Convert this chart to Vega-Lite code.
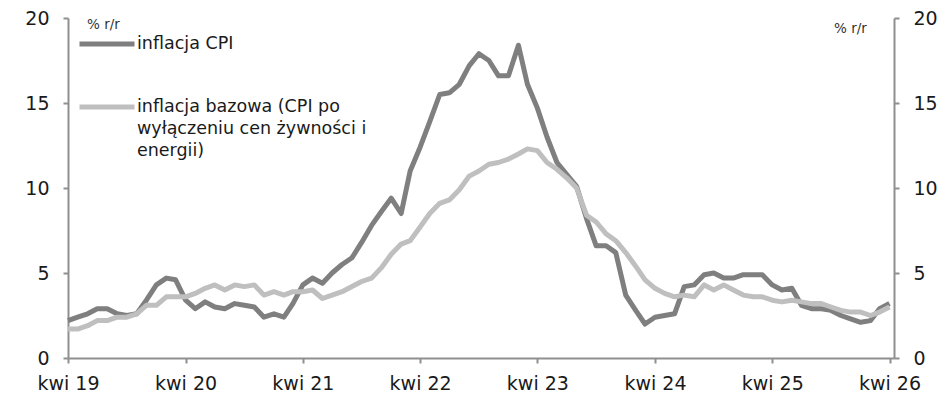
{
  "$schema": "https://vega.github.io/schema/vega-lite/v6.json",
  "width": 826,
  "height": 340,
  "autosize": {"type": "none"},
  "padding": {"left": 68, "top": 18, "right": 56, "bottom": 48},
  "background": "white",
  "config": {
    "view": {"stroke": null},
    "font": "DejaVu Sans",
    "style": {"guide-label": {"lineHeight": 22}},
    "axis": {
      "grid": false,
      "domainColor": "#8f8f8f",
      "domainWidth": 2,
      "tickColor": "#8f8f8f",
      "tickWidth": 2,
      "tickSize": 5,
      "labelFont": "DejaVu Sans",
      "labelFontSize": 19,
      "labelColor": "#1a1a1a",
      "titleFont": "DejaVu Sans",
      "titleFontSize": 13.5,
      "titleFontWeight": "normal",
      "titleColor": "#333333"
    }
  },
  "data": {
    "values": [
      {"date": "2019-04-01", "cpi": 2.2, "core": 1.7},
      {"date": "2019-05-01", "cpi": 2.4, "core": 1.7},
      {"date": "2019-06-01", "cpi": 2.6, "core": 1.9},
      {"date": "2019-07-01", "cpi": 2.9, "core": 2.2},
      {"date": "2019-08-01", "cpi": 2.9, "core": 2.2},
      {"date": "2019-09-01", "cpi": 2.6, "core": 2.4},
      {"date": "2019-10-01", "cpi": 2.5, "core": 2.4},
      {"date": "2019-11-01", "cpi": 2.6, "core": 2.6},
      {"date": "2019-12-01", "cpi": 3.4, "core": 3.1},
      {"date": "2020-01-01", "cpi": 4.3, "core": 3.1},
      {"date": "2020-02-01", "cpi": 4.7, "core": 3.6},
      {"date": "2020-03-01", "cpi": 4.6, "core": 3.6},
      {"date": "2020-04-01", "cpi": 3.4, "core": 3.6},
      {"date": "2020-05-01", "cpi": 2.9, "core": 3.8},
      {"date": "2020-06-01", "cpi": 3.3, "core": 4.1},
      {"date": "2020-07-01", "cpi": 3.0, "core": 4.3},
      {"date": "2020-08-01", "cpi": 2.9, "core": 4.0},
      {"date": "2020-09-01", "cpi": 3.2, "core": 4.3},
      {"date": "2020-10-01", "cpi": 3.1, "core": 4.2},
      {"date": "2020-11-01", "cpi": 3.0, "core": 4.3},
      {"date": "2020-12-01", "cpi": 2.4, "core": 3.7},
      {"date": "2021-01-01", "cpi": 2.6, "core": 3.9},
      {"date": "2021-02-01", "cpi": 2.4, "core": 3.7},
      {"date": "2021-03-01", "cpi": 3.2, "core": 3.9},
      {"date": "2021-04-01", "cpi": 4.3, "core": 3.9},
      {"date": "2021-05-01", "cpi": 4.7, "core": 4.0},
      {"date": "2021-06-01", "cpi": 4.4, "core": 3.5},
      {"date": "2021-07-01", "cpi": 5.0, "core": 3.7},
      {"date": "2021-08-01", "cpi": 5.5, "core": 3.9},
      {"date": "2021-09-01", "cpi": 5.9, "core": 4.2},
      {"date": "2021-10-01", "cpi": 6.8, "core": 4.5},
      {"date": "2021-11-01", "cpi": 7.8, "core": 4.7},
      {"date": "2021-12-01", "cpi": 8.6, "core": 5.3},
      {"date": "2022-01-01", "cpi": 9.4, "core": 6.1},
      {"date": "2022-02-01", "cpi": 8.5, "core": 6.7},
      {"date": "2022-03-01", "cpi": 11.0, "core": 6.9},
      {"date": "2022-04-01", "cpi": 12.4, "core": 7.7},
      {"date": "2022-05-01", "cpi": 13.9, "core": 8.5},
      {"date": "2022-06-01", "cpi": 15.5, "core": 9.1},
      {"date": "2022-07-01", "cpi": 15.6, "core": 9.3},
      {"date": "2022-08-01", "cpi": 16.1, "core": 9.9},
      {"date": "2022-09-01", "cpi": 17.2, "core": 10.7},
      {"date": "2022-10-01", "cpi": 17.9, "core": 11.0},
      {"date": "2022-11-01", "cpi": 17.5, "core": 11.4},
      {"date": "2022-12-01", "cpi": 16.6, "core": 11.5},
      {"date": "2023-01-01", "cpi": 16.6, "core": 11.7},
      {"date": "2023-02-01", "cpi": 18.4, "core": 12.0},
      {"date": "2023-03-01", "cpi": 16.1, "core": 12.3},
      {"date": "2023-04-01", "cpi": 14.7, "core": 12.2},
      {"date": "2023-05-01", "cpi": 13.0, "core": 11.5},
      {"date": "2023-06-01", "cpi": 11.5, "core": 11.1},
      {"date": "2023-07-01", "cpi": 10.8, "core": 10.6},
      {"date": "2023-08-01", "cpi": 10.1, "core": 10.0},
      {"date": "2023-09-01", "cpi": 8.2, "core": 8.4},
      {"date": "2023-10-01", "cpi": 6.6, "core": 8.0},
      {"date": "2023-11-01", "cpi": 6.6, "core": 7.3},
      {"date": "2023-12-01", "cpi": 6.2, "core": 6.9},
      {"date": "2024-01-01", "cpi": 3.7, "core": 6.2},
      {"date": "2024-02-01", "cpi": 2.8, "core": 5.4},
      {"date": "2024-03-01", "cpi": 2.0, "core": 4.6},
      {"date": "2024-04-01", "cpi": 2.4, "core": 4.1},
      {"date": "2024-05-01", "cpi": 2.5, "core": 3.8},
      {"date": "2024-06-01", "cpi": 2.6, "core": 3.6},
      {"date": "2024-07-01", "cpi": 4.2, "core": 3.7},
      {"date": "2024-08-01", "cpi": 4.3, "core": 3.6},
      {"date": "2024-09-01", "cpi": 4.9, "core": 4.3},
      {"date": "2024-10-01", "cpi": 5.0, "core": 4.0},
      {"date": "2024-11-01", "cpi": 4.7, "core": 4.3},
      {"date": "2024-12-01", "cpi": 4.7, "core": 4.0},
      {"date": "2025-01-01", "cpi": 4.9, "core": 3.7},
      {"date": "2025-02-01", "cpi": 4.9, "core": 3.6},
      {"date": "2025-03-01", "cpi": 4.9, "core": 3.6},
      {"date": "2025-04-01", "cpi": 4.3, "core": 3.4},
      {"date": "2025-05-01", "cpi": 4.0, "core": 3.3},
      {"date": "2025-06-01", "cpi": 4.1, "core": 3.4},
      {"date": "2025-07-01", "cpi": 3.1, "core": 3.3},
      {"date": "2025-08-01", "cpi": 2.9, "core": 3.2},
      {"date": "2025-09-01", "cpi": 2.9, "core": 3.2},
      {"date": "2025-10-01", "cpi": 2.8, "core": 3.0},
      {"date": "2025-11-01", "cpi": 2.5, "core": 2.8},
      {"date": "2025-12-01", "cpi": 2.3, "core": 2.7},
      {"date": "2026-01-01", "cpi": 2.1, "core": 2.7},
      {"date": "2026-02-01", "cpi": 2.2, "core": 2.5},
      {"date": "2026-03-01", "cpi": 2.9, "core": 2.7},
      {"date": "2026-04-01", "cpi": 3.2, "core": 3.0}
    ]
  },
  "encoding": {
    "x": {
      "field": "date",
      "type": "temporal",
      "scale": {
        "type": "utc",
        "domain": [
          {"year": 2019, "month": 4, "date": 1, "utc": true},
          {"year": 2026, "month": 4, "date": 15, "utc": true}
        ]
      },
      "axis": {
        "title": null,
        "values": [
          {"year": 2019, "month": 4, "date": 1, "utc": true},
          {"year": 2020, "month": 4, "date": 1, "utc": true},
          {"year": 2021, "month": 4, "date": 1, "utc": true},
          {"year": 2022, "month": 4, "date": 1, "utc": true},
          {"year": 2023, "month": 4, "date": 1, "utc": true},
          {"year": 2024, "month": 4, "date": 1, "utc": true},
          {"year": 2025, "month": 4, "date": 1, "utc": true},
          {"year": 2026, "month": 4, "date": 1, "utc": true}
        ],
        "labelExpr": "'kwi ' + utcFormat(datum.value, '%y')",
        "labelPadding": 11,
        "labelFlush": false,
        "labelOverlap": false
      }
    }
  },
  "layer": [
    {
      "mark": {"type": "line", "strokeWidth": 5, "strokeJoin": "round", "clip": false},
      "encoding": {
        "y": {
          "field": "cpi",
          "type": "quantitative",
          "scale": {"domain": [0, 20], "nice": false},
          "axis": {
            "orient": "left",
            "values": [0, 5, 10, 15, 20],
            "labelPadding": 14,
            "title": "% r/r",
            "titleAngle": 0,
            "titleAlign": "center",
            "titleBaseline": "middle",
            "titleX": 35,
            "titleY": 6
          }
        },
        "color": {
          "datum": "cpi",
          "type": "nominal",
          "scale": {"domain": ["cpi", "core"], "range": ["#7f7f7f", "#bfbfbf"]},
          "legend": {
            "orient": "none",
            "legendX": 9,
            "legendY": -4,
            "title": null,
            "padding": 0,
            "symbolType": "stroke",
            "symbolSize": 3025,
            "symbolStrokeWidth": 5,
            "labelFont": "DejaVu Sans",
            "labelFontSize": 17.5,
            "labelColor": "#1a1a1a",
            "labelLimit": 0,
            "labelOffset": 0,
            "rowPadding": 23,
            "labelExpr": "datum.value == 'cpi' ? 'inflacja CPI' : ['inflacja bazowa (CPI po', 'wyłączeniu cen żywności i', 'energii)']"
          }
        }
      }
    },
    {
      "mark": {"type": "line", "strokeWidth": 5, "strokeJoin": "round", "clip": false},
      "encoding": {
        "y": {
          "field": "core",
          "type": "quantitative",
          "scale": {"domain": [0, 20], "nice": false},
          "axis": {
            "orient": "right",
            "values": [0, 5, 10, 15, 20],
            "labelPadding": 14,
            "title": "% r/r",
            "titleAngle": 0,
            "titleAlign": "center",
            "titleBaseline": "middle",
            "titleX": -44,
            "titleY": 10
          }
        },
        "color": {"datum": "core", "type": "nominal"}
      }
    }
  ],
  "resolve": {"scale": {"y": "independent"}}
}
